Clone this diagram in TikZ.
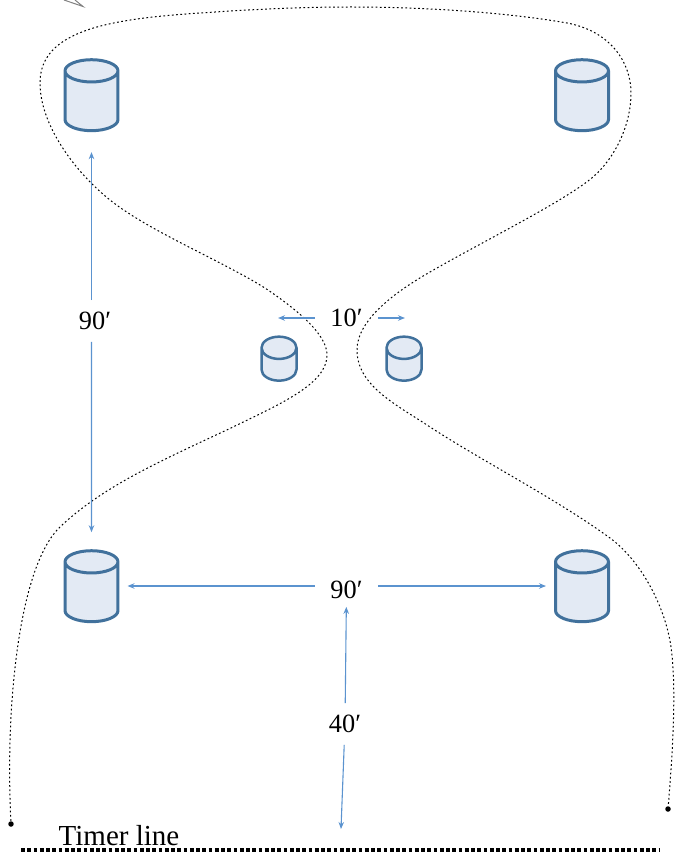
\documentclass[tikz,border=0pt]{standalone}
\usepackage{fontspec}
\setmainfont{Liberation Serif}
\usetikzlibrary{shapes, arrows.meta, positioning}

\begin{document}
\begin{tikzpicture}[x=0.02cm, y=-0.02cm,
            bigdb/.style={draw=dbline, line width=0.06cm, shape=cylinder, shape border rotate=90, shape aspect=1.9, cylinder uses custom fill, cylinder body fill=dbfill, cylinder end fill=dbfill, minimum width=1.06cm, minimum height=1.42cm},
            smalldb/.style={bigdb, line width=0.05cm, minimum width=0.7cm, minimum height=0.88cm},
            lbl/.style={font=\fontsize{15}{15}\selectfont, inner sep=0pt, minimum width=1.26cm, minimum height=0.82cm},
            dim/.style={-{Stealth[length=0.14cm, width=0.11cm]}, draw=dimblue, line width=0.022cm},
            field/.style={black, line width=0.02cm, dash pattern=on 0.035cm off 0.05cm},
            pin/.style={circle, fill=black, inner sep=0pt, minimum size=0.11cm}]

            \definecolor{dbline}{HTML}{41719C}
            \definecolor{dbfill}{HTML}{E3EAF4}
            \definecolor{dimblue}{HTML}{5B93CF}

            \useasboundingbox (0,0) rectangle (674,858);

            % stray corner of a shape
            \draw[gray, line width=0.02cm] (64,0) -- (83,6.5) -- (75,0);

            % field outline
            \node[pin] (pinL) at (11,824) {};
            \node[pin] (pinR) at (668,809) {};
            \draw[field] (pinL) .. controls (5,700) and (20,565) .. (60,527)
                .. controls (105,484) and (170,457) .. (233,427)
                .. controls (280,404) and (327,384) .. (327,355)
                .. controls (327,335) and (300,312) .. (268,290)
                .. controls (225,262) and (150,232) .. (110,200)
                .. controls (75,172) and (40,125) .. (40,83)
                .. controls (40,30) and (110,19) .. (200,13)
                .. controls (255,9.3) and (300,7) .. (350,7)
                .. controls (430,7) and (510,13) .. (567,23)
                .. controls (610,31) and (631,62) .. (631,93)
                .. controls (631,125) and (615,158) .. (593,177)
                .. controls (565,201) and (480,243) .. (430,272)
                .. controls (395,292) and (357,320) .. (357,350)
                .. controls (357,385) and (395,404) .. (427,425)
                .. controls (480,460) and (555,498) .. (610,538)
                .. controls (640,560) and (665,605) .. (671,647)
                .. controls (677,690) and (672,760) .. (pinR);

            % bases
            \node[bigdb] (dbTL) at (91.5,105) {};
            \node[bigdb] (dbTR) at (582,105) {};
            \node[bigdb] (dbBL) at (91.5,596) {};
            \node[bigdb] (dbBR) at (582,596) {};
            \node[smalldb] (dbML) at (279,369) {};
            \node[smalldb] (dbMR) at (404,369) {};

            % labels
            \node[lbl] (lblL) at (95,321) {90′};
            \node[lbl] (lblC) at (346.5,318) {10′};
            \node[lbl] (lblB) at (346.5,590) {90′};
            \node[lbl] (lblT) at (345,724) {40′};
            \node[font=\fontsize{16.5}{16.5}\selectfont, inner sep=0pt] (timer) at (119,836) {Timer line};

            % free ends
            \coordinate (endL) at (278,318);
            \coordinate (endR) at (405,318);
            \coordinate (endT) at (341,829);

            % distances
            \draw[dim, shorten >=0.4cm] (lblL.north -| dbTL) -- (dbTL);
            \draw[dim, shorten >=0.34cm] (lblL.south -| dbBL) -- (dbBL);
            \draw[dim] (lblC) -- (endL);
            \draw[dim] (lblC) -- (endR);
            \draw[dim, shorten >=0.16cm] (lblB.west |- 0,586) -- (dbBL.east |- 0,586);
            \draw[dim, shorten >=0.16cm] (lblB.east |- 0,586) -- (dbBR.west |- 0,586);
            \draw[dim, shorten >=-0.08cm] (lblT) -- (lblB);
            \draw[dim] (lblT) -- (endT);

            % timer line
            \node[inner sep=0pt] (timerA) at (20,850) {};
            \node[inner sep=0pt] (timerB) at (661,850) {};
            \draw[line width=0.07cm, dash pattern=on 0.075cm off 0.05cm] (timerA) -- (timerB);
        \end{tikzpicture}
\end{document}
